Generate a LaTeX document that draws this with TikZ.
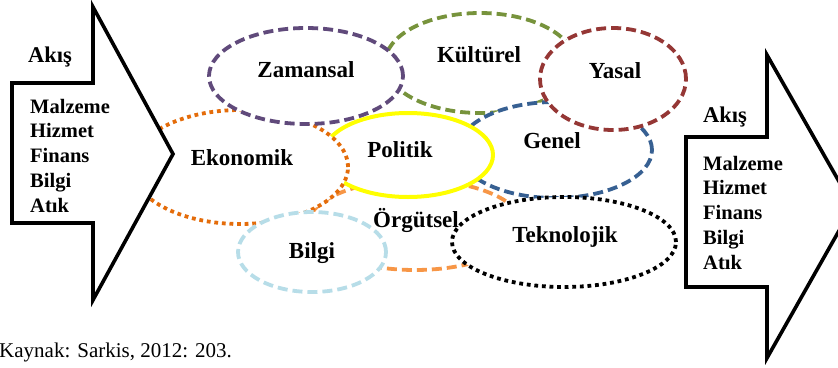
\documentclass[tikz,border=0pt]{standalone}
\usepackage{fontspec}
\setmainfont{Liberation Serif}
\usetikzlibrary{shapes.geometric}
\definecolor{cPurple}{RGB}{96,74,123}
\definecolor{cGreen}{RGB}{119,147,60}
\definecolor{cRed}{RGB}{149,55,53}
\definecolor{cBlue}{RGB}{55,96,146}
\definecolor{cYellow}{RGB}{255,255,0}
\definecolor{cOrange}{RGB}{228,108,10}
\definecolor{cLightOrange}{RGB}{247,150,70}
\definecolor{cAqua}{RGB}{183,221,232}
\tikzset{
	zone/.style={ellipse, fill=white, inner sep=0pt, line width=3.8pt},
	dashzone/.style={zone, dash pattern=on 10pt off 5pt},
	dotzone/.style={zone, dash pattern=on 3.8pt off 3.8pt},
	lbl/.style={font=\fontsize{23}{27}\selectfont\bfseries, anchor=base, inner sep=0pt},
	flow/.style={draw=black, line width=3.6pt, fill=white, line join=miter},
	flowtxt/.style={font=\fontsize{20.5}{25}\selectfont\bfseries, anchor=base west, inner sep=0pt},
	akis/.style={font=\fontsize{22.5}{26}\selectfont\bfseries, anchor=base west, inner sep=0pt}
}
\begin{document}
\begin{tikzpicture}[x=1pt,y=-1pt]
\clip (0,0) rectangle (838,367);
% ellipses, back to front
\node[dashzone, draw=cGreen, minimum width=190pt, minimum height=100pt] (kulturel) at (480,63) {};
\node[dashzone, draw=cBlue, minimum width=194pt, minimum height=96pt] (genel) at (555,150) {};
\node[dashzone, draw=cLightOrange, minimum width=214pt, minimum height=90pt] (orgutsel) at (415,225) {};
\node[zone, draw=cYellow, line width=4pt, minimum width=170pt, minimum height=84pt] (politik) at (408,155) {};
\node[dotzone, draw=cOrange, minimum width=216pt, minimum height=114pt] (ekonomik) at (240,167) {};
\node[dashzone, draw=cPurple, minimum width=194pt, minimum height=96pt] (zamansal) at (306,76) {};
\node[dashzone, draw=cRed, minimum width=146pt, minimum height=102pt] (yasal) at (613,79) {};
\node[dashzone, draw=cAqua, minimum width=148pt, minimum height=80pt] (bilgi) at (312,252) {};
\node[dotzone, draw=black, minimum width=224pt, minimum height=90pt] (teknolojik) at (564,242) {};
% flow arrows
\draw[flow] (93,7) -- (173,154) -- (93,300) -- (93,223) -- (12,223) -- (12,83) -- (93,83) -- cycle;
\draw[flow] (767,55) -- (853,206) -- (767,358) -- (767,287) -- (686,287) -- (686,137) -- (767,137) -- cycle;
\node[akis] (akisL) at (28,62) {Akış};
\node[akis] (akisR) at (703,122) {Akış};
\foreach \t [count=\i from 0] in {Malzeme,Hizmet,Finans,Bilgi,Atık}{
	\node[flowtxt] (inL\i) at (30,113+24.75*\i) {\t};
	\node[flowtxt] (outR\i) at (703,170+24.75*\i) {\t};
}
% labels
\node[lbl] (zamansal-t) at (306,77) {Zamansal};
\node[lbl] (kulturel-t) at (479,62) {Kültürel};
\node[lbl] (yasal-t) at (615,78) {Yasal};
\node[lbl] (ekonomik-t) at (242,165) {Ekonomik};
\node[lbl] (politik-t) at (400,157) {Politik};
\node[lbl] (genel-t) at (552,148) {Genel};
\node[lbl] (orgutsel-t) at (416,227) {Örgütsel};
\node[lbl] (teknolojik-t) at (565,242) {Teknolojik};
\node[lbl] (bilgi-t) at (312,258) {Bilgi};
\node[font=\fontsize{21}{25}\selectfont, anchor=base west, inner sep=0pt] (kaynak) at (-1,357) {Kaynak: Sarkis, 2012: 203.};
\end{tikzpicture}
\end{document}
